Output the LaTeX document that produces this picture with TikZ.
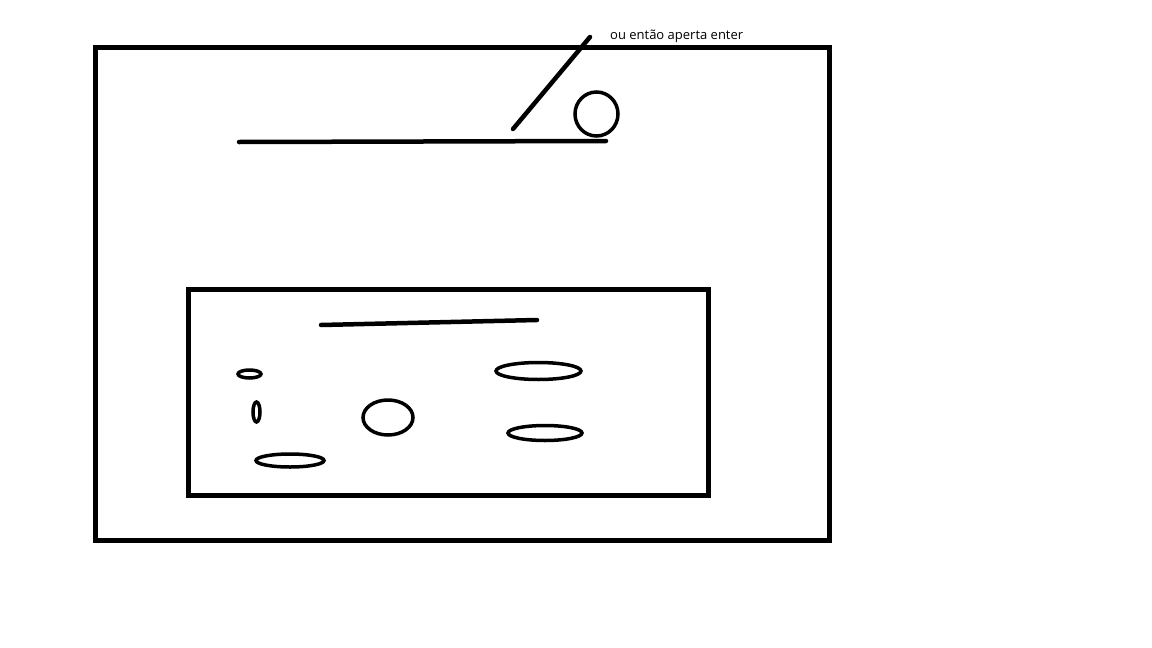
\documentclass[tikz,border=0pt]{standalone}
\usepackage{fontspec}
\setmainfont{Open Sans}
\usepackage{tikz}
\tikzset{
  frame/.style = {draw=black, line width=5pt},
  stroke/.style = {draw=black, line width=4.5pt, line cap=round},
  blob/.style  = {draw=black, line width=3.5pt},
  note/.style  = {font=\fontsize{13}{15}\selectfont, inner sep=0pt, anchor=west},
}

\begin{document}
\begin{tikzpicture}[x=1pt,y=-1pt]
  \useasboundingbox[fill=white] (0,0) rectangle (1152,648);
  % outer window and inner panel
  \draw[frame] (95,47) rectangle (829,540);
  \draw[frame] (188,289) rectangle (708,495);
  % input line with button
  \draw[stroke] (239,142) -- (606,141);
  \draw[blob] (596.5,114) ellipse [x radius=21.5, y radius=22];
  \draw[stroke] (513,129) -- (590,37);
  \node[note] (enter) at (610,36) {ou então aperta enter};
  % panel content
  \draw[stroke] (321,325) -- (537,320);
  \draw[blob] (249.5,374) ellipse [x radius=11.5, y radius=4];
  \draw[blob] (256.5,412) ellipse [x radius=3.5, y radius=10];
  \draw[blob] (290,460.5) ellipse [x radius=34, y radius=6.5];
  \draw[blob] (388,417.5) ellipse [x radius=25, y radius=17.5];
  \draw[blob] (538.5,371) ellipse [x radius=42.5, y radius=8.5];
  \draw[blob] (545,433) ellipse [x radius=37, y radius=7.5];
\end{tikzpicture}
\end{document}
